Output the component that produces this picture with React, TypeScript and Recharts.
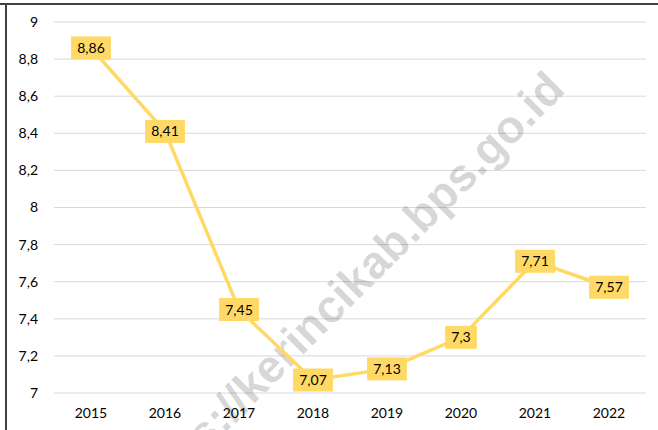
import React from 'react';
import { LineChart, Line, XAxis, YAxis, CartesianGrid, LabelList, Customized } from 'recharts';

const years = ['2015', '2016', '2017', '2018', '2019', '2020', '2021', '2022'];
const values = [8.86, 8.41, 7.45, 7.07, 7.13, 7.3, 7.71, 7.57];
const yTicks = [7, 7.2, 7.4, 7.6, 7.8, 8, 8.2, 8.4, 8.6, 8.8, 9];
const watermark = 'https://kerincikab.bps.go.id';

const data = years.map((year, i) => ({ year, value: values[i] }));

const fmt = (v: number) => String(v).replace('.', ',');
const FONT = 'Lato, "Liberation Sans", Arial, sans-serif';
const WM_FONT = '"Liberation Sans", Arial, sans-serif';
const YELLOW = '#FFD966';
const FS = 14;

const textWidth = (s: string) => {
  let w = 0;
  for (const ch of s) w += ch === ',' ? 3.6 : 8.1;
  return w;
};

const DataLabel = (props: any) => {
  const { x, y, value } = props;
  const s = fmt(value);
  const w = textWidth(s) + 12;
  const h = 23;
  return (
    <g>
      <rect x={x - w / 2} y={y - h / 2} width={w} height={h} fill={YELLOW} />
      <text x={x} y={y + 5} textAnchor="middle" fontSize={FS} fill="#000" fontFamily={FONT}>
        {s}
      </text>
    </g>
  );
};

const Watermark = () => (
  <text
    x={567}
    y={91}
    transform="rotate(-45 567 91)"
    textAnchor="end"
    fontSize={46}
    fontWeight="bold"
    fontFamily={WM_FONT}
    fill="rgba(0,0,0,0.17)"
  >
    {watermark}
  </text>
);

export default function App() {
  return (
    <div style={{ position: 'absolute', left: 0, top: 0, width: 658, height: 430, background: '#fff', overflow: 'hidden' }}>
      <LineChart width={658} height={430} data={data} margin={{ top: 22, right: 12, bottom: 7, left: 0 }}>
        <CartesianGrid vertical={false} stroke="#d9d9d9" strokeWidth={1} />
        <XAxis
          dataKey="year"
          axisLine={false}
          tickLine={false}
          tickMargin={9}
          height={30}
          padding={{ left: 37, right: 37 }}
          tick={{ fill: '#000', fontSize: FS, fontFamily: FONT }}
          interval={0}
        />
        <YAxis
          domain={[7, 9]}
          ticks={yTicks}
          width={54}
          axisLine={false}
          tickLine={false}
          tickMargin={10}
          tickFormatter={(v: number) => fmt(Math.round(v * 10) / 10)}
          tick={{ fill: '#000', fontSize: FS, fontFamily: FONT }}
          interval={0}
        />
        <Line
          dataKey="value"
          stroke={YELLOW}
          strokeWidth={3.5}
          dot={false}
          activeDot={false}
          isAnimationActive={false}
        >
          <LabelList dataKey="value" content={DataLabel} />
        </Line>
        <Customized component={Watermark} />
      </LineChart>
      <div style={{ position: 'absolute', left: 0, top: 3, width: 658, height: 2, background: '#404040' }} />
      <div style={{ position: 'absolute', left: 5, top: 3, width: 2, height: 427, background: '#404040' }} />
    </div>
  );
}
